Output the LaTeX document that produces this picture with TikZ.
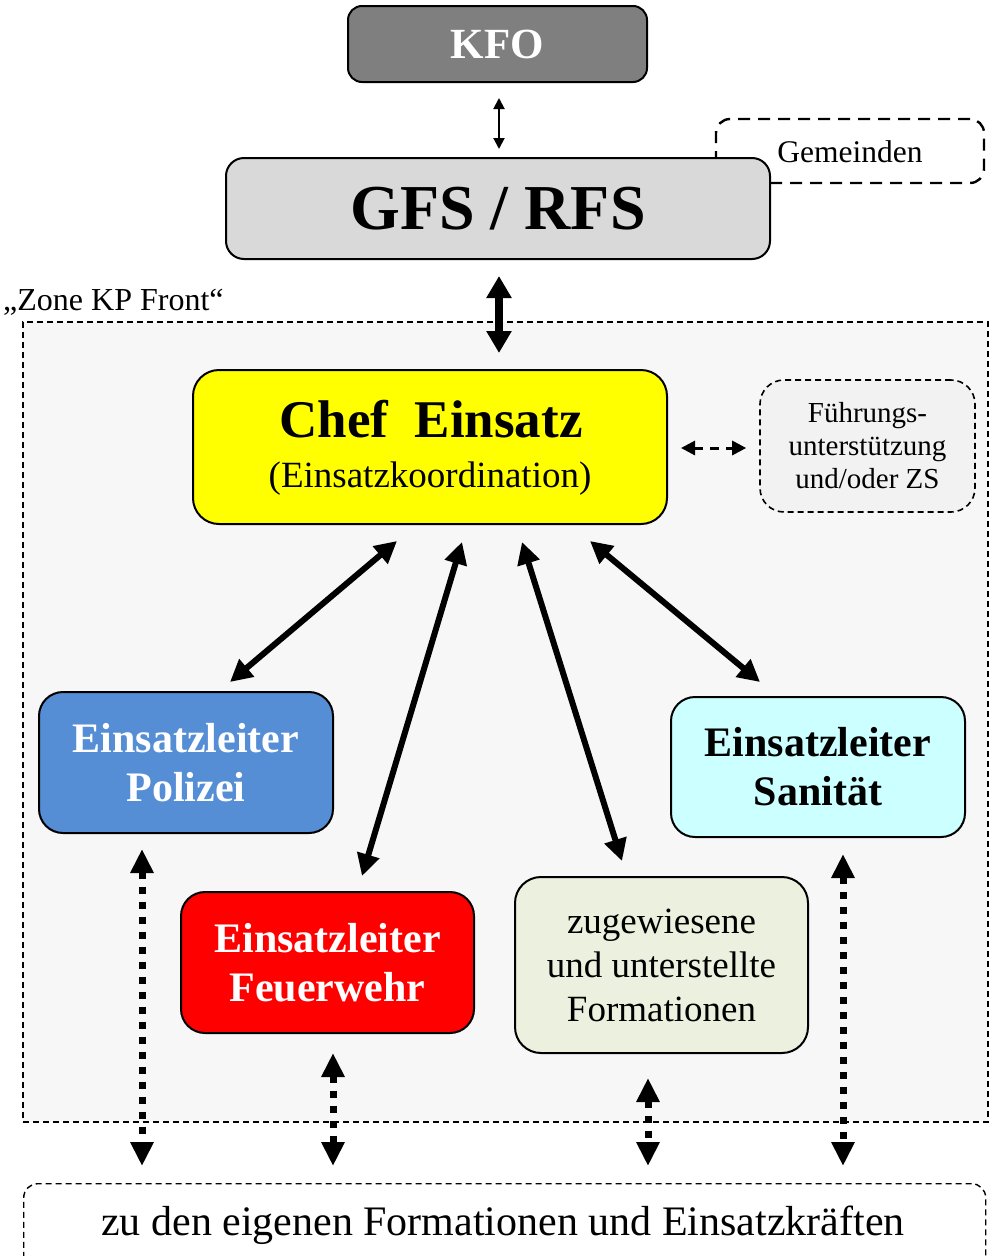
\documentclass[tikz,border=0pt]{standalone}
\usepackage{fontspec}
\setmainfont{Liberation Serif}
\usetikzlibrary{arrows.meta}
\definecolor{kfogray}{HTML}{7F7F7F}
\definecolor{gfsgray}{HTML}{D9D9D9}
\definecolor{zonebg}{HTML}{F7F7F7}
\definecolor{chefyellow}{HTML}{FFFF00}
\definecolor{polblue}{HTML}{558ED5}
\definecolor{sancyan}{HTML}{CCFFFF}
\definecolor{fwred}{HTML}{FF0000}
\definecolor{formgreen}{HTML}{EBF1DE}
\definecolor{fuegray}{HTML}{F2F2F2}
\begin{document}
\begin{tikzpicture}[x=1pt,y=-1pt,
  box/.style={draw=black,line width=2pt,rounded corners=22pt,inner sep=0pt,align=center},
  dbox/.style={draw=black,line width=1.6pt,dash pattern=on 7pt off 5pt,rounded corners=22pt,inner sep=0pt,align=center},
  bigarrow/.style={line width=6pt,{Triangle[width=22pt,length=22pt]}-{Triangle[width=22pt,length=22pt]}},
  dotarrow/.style={line width=7pt,dash pattern=on 7pt off 8pt,{Triangle[width=22pt,length=24pt]}-{Triangle[width=22pt,length=24pt]}},
  f29/.style={font=\fontsize{29}{33}\selectfont},
  f32/.style={font=\fontsize{32}{36}\selectfont},
  f37/.style={font=\fontsize{37}{44}\selectfont},
  f42/.style={font=\fontsize{42}{48}\selectfont},
  f42b/.style={font=\fontsize{42}{49}\selectfont\bfseries},
]
\useasboundingbox (0,0) rectangle (992,1256);

% zone
\node[draw=black,fill=zonebg,line width=1.4pt,dash pattern=on 6pt off 4pt,minimum width=965pt,minimum height=800pt,inner sep=0pt] (zone) at (505.5,722) {};
\node[f32,anchor=base west,inner sep=0pt] (zonelbl) at (3,310) {„Zone KP Front“};

% top
\node[box,fill=kfogray,minimum width=299pt,minimum height=76pt,rounded corners=14pt,text=white,font=\fontsize{43}{50}\selectfont\bfseries] (kfo) at (497.5,44) {KFO};
\node[draw=black,line width=2.4pt,dash pattern=on 12pt off 8pt,rounded corners=14pt,minimum width=268pt,minimum height=64pt,inner sep=0pt] (gem) at (850,151) {};
\node[box,fill=gfsgray,minimum width=544pt,minimum height=101pt,rounded corners=18pt,font=\fontsize{64}{70}\selectfont\bfseries] (gfs) at (498,208.5) {GFS / RFS};
\node[font=\fontsize{31.5}{36}\selectfont,anchor=base,inner sep=0pt] (gemtxt) at (850,162) {Gemeinden};

\draw[line width=2pt,{Triangle[width=11pt,length=11pt]}-{Triangle[width=11pt,length=11pt]}] ([xshift=1.5pt,yshift=-15pt]kfo.south) -- ([xshift=1pt,yshift=8pt]gfs.north);
\draw[line width=8pt,{Triangle[width=24pt,length=22pt]}-{Triangle[width=24pt,length=22pt]}] ([xshift=1pt,yshift=-16pt]gfs.south) -- ([xshift=1pt,yshift=-93pt]gfs.south);

% chef
\node[box,fill=chefyellow,minimum width=474pt,minimum height=154pt,rounded corners=26pt] (chef) at (430,447) {};
\node[anchor=base,inner sep=0pt,font=\fontsize{53}{60}\selectfont\bfseries] (cheft) at (431,437) {Chef\ \ Einsatz};
\node[anchor=base,inner sep=0pt,f37] (chefs) at (430,487) {(Einsatzkoordination)};

\node[dbox,fill=fuegray,line width=1.6pt,dash pattern=on 6pt off 4pt,minimum width=215pt,minimum height=132pt,rounded corners=24pt,f29] (fue) at (867.5,446) {Führungs-\\unterstützung\\und/oder ZS};
\draw[line width=3pt,dash pattern=on 9pt off 7pt,{Triangle[width=14pt,length=14pt]}-{Triangle[width=14pt,length=14pt]}] ([xshift=13pt,yshift=-1pt]chef.east) -- ([xshift=-13pt,yshift=-2pt]fue.west);

% leaders
\node[box,fill=polblue,minimum width=294pt,minimum height=141pt,rounded corners=24pt,text=white,f42b] (pol) at (186,762.5) {Einsatzleiter\\Polizei};
\node[box,fill=sancyan,minimum width=294pt,minimum height=140pt,rounded corners=24pt,f42b] (san) at (818,767) {Einsatzleiter\\Sanität};
\node[box,fill=fwred,minimum width=293pt,minimum height=141pt,rounded corners=24pt,text=white,f42b] (fw) at (327.5,962.5) {Einsatzleiter\\Feuerwehr};
\node[box,fill=formgreen,minimum width=293pt,minimum height=176pt,rounded corners=26pt,f37] (form) at (661.5,965) {zugewiesene\\und unterstellte\\Formationen};

\draw[bigarrow] ([xshift=-33pt,yshift=-16pt]chef.south) -- ([xshift=44pt,yshift=9pt]pol.north);
\draw[bigarrow] ([xshift=32pt,yshift=-17pt]chef.south) -- ([xshift=34.5pt,yshift=15pt]fw.north);
\draw[bigarrow] ([xshift=92pt,yshift=-17pt]chef.south) -- ([xshift=-39.5pt,yshift=15pt]form.north);
\draw[bigarrow] ([xshift=160pt,yshift=-16pt]chef.south) -- ([xshift=-58pt,yshift=14pt]san.north);

% bottom
\node[draw=black,line width=1.4pt,dash pattern=on 6pt off 4pt,rounded corners=14pt,minimum width=962pt,minimum height=110pt,inner sep=0pt,anchor=north west] (bot) at (23,1183) {};
\node[f42,anchor=base,inner sep=0pt] (bott) at (503,1235) {zu den eigenen Formationen und Einsatzkräften};

\draw[dotarrow] ([xshift=-44pt,yshift=-15pt]pol.south) -- ([xshift=119pt,yshift=17pt]bot.north west);
\draw[dotarrow] ([xshift=5.5pt,yshift=-19pt]fw.south) -- ([xshift=310pt,yshift=17pt]bot.north west);
\draw[dotarrow] ([xshift=-13.5pt,yshift=-24pt]form.south) -- ([xshift=625pt,yshift=17pt]bot.north west);
\draw[dotarrow] ([xshift=25pt,yshift=-16pt]san.south) -- ([xshift=820pt,yshift=17pt]bot.north west);
\end{tikzpicture}
\end{document}
